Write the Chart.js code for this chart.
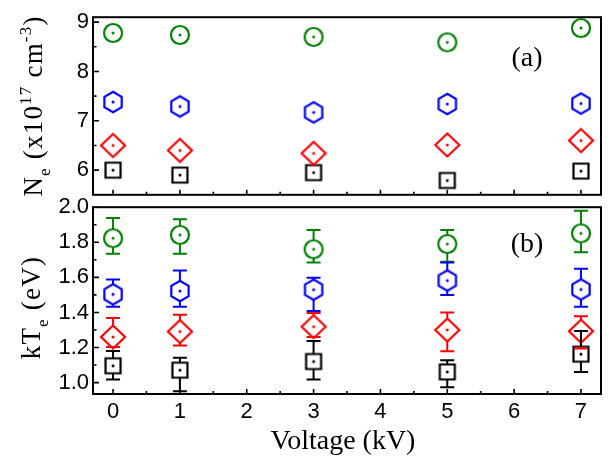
<!DOCTYPE html>
<html><head><meta charset="utf-8">
<script src="https://cdn.jsdelivr.net/npm/chart.js@4"></script>
<style>
html,body{margin:0;padding:0;background:#fff;}
#wrap{position:relative;width:612px;height:459px;overflow:hidden;background:#fff;}
canvas{position:absolute;left:0;}
#cA{top:0;}
#cB{top:190px;}
</style></head><body>
<div id="wrap"><canvas id="cA" width="612" height="212"></canvas><canvas id="cB" width="612" height="269"></canvas></div>
<script>
// ---------------- DATA ----------------
const voltages = [0, 1, 3, 5, 7];
const xTicks = [0, 1, 2, 3, 4, 5, 6, 7];
const neTicks = [6, 7, 8, 9];
const teTicks = [1.0, 1.2, 1.4, 1.6, 1.8, 2.0];
const xAxisTitle = 'Voltage (kV)';

// Panel (a): electron density Ne (x10^17 cm^-3)
const neBlack = [6.00, 5.90, 5.95, 5.79, 5.98];
const neRed   = [6.50, 6.40, 6.34, 6.51, 6.60];
const neBlue  = [7.38, 7.29, 7.17, 7.34, 7.35];
const neGreen = [8.78, 8.74, 8.70, 8.59, 8.88];

// Panel (b): electron temperature kTe (eV) with error bar limits
const teBlack   = [1.096, 1.071, 1.120, 1.061, 1.162];
const teBlackHi = [1.180, 1.141, 1.237, 1.128, 1.294];
const teBlackLo = [1.018, 0.950, 1.018, 0.973, 1.061];
const teRed     = [1.260, 1.291, 1.319, 1.300, 1.293];
const teRedHi   = [1.368, 1.387, 1.397, 1.400, 1.378];
const teRedLo   = [1.203, 1.211, 1.260, 1.179, 1.194];
const teBlue    = [1.503, 1.522, 1.530, 1.582, 1.531];
const teBlueHi  = [1.588, 1.639, 1.598, 1.685, 1.649];
const teBlueLo  = [1.433, 1.433, 1.408, 1.499, 1.433];
const teGreen   = [1.823, 1.842, 1.760, 1.790, 1.851];
const teGreenHi = [1.939, 1.931, 1.870, 1.870, 1.980];
const teGreenLo = [1.734, 1.734, 1.685, 1.689, 1.743];

// ---------------- STYLE ----------------
const GREEN = '#008000', BLUE = '#0000ff', RED = '#ff0000', BLACK = '#000000';
const SANS = '"Liberation Sans", Arial, sans-serif';
const SERIF = '"Liberation Serif", "Times New Roman", serif';

function marker(shape, color) {
  const c = document.createElement('canvas');
  c.width = 30; c.height = 30;
  const g = c.getContext('2d');
  g.strokeStyle = color; g.fillStyle = color; g.lineWidth = 2.2; g.lineJoin = 'miter';
  const m = 15;
  g.beginPath();
  if (shape === 'circle') g.arc(m, m, 9, 0, 2 * Math.PI);
  else if (shape === 'square') g.rect(m - 7.5, m - 7.5, 15, 15);
  else if (shape === 'diamond') { g.moveTo(m, m - 11.5); g.lineTo(m + 12, m); g.lineTo(m, m + 11.5); g.lineTo(m - 12, m); g.closePath(); }
  else if (shape === 'hex') {
    for (let k = 0; k < 6; k++) {
      const a = -Math.PI / 2 + k * Math.PI / 3;
      const px = m + 10 * Math.cos(a), py = m + 10.3 * Math.sin(a);
      if (k === 0) g.moveTo(px, py); else g.lineTo(px, py);
    }
    g.closePath();
  }
  g.stroke();
  g.beginPath(); g.arc(m, m, 1.5, 0, 2 * Math.PI); g.fill();
  return c;
}
const half = { circle: 9, square: 7.5, diamond: 11.5, hex: 10.3 };

function ds(vals, shape, color, hi, lo) {
  return {
    data: voltages.map((v, i) => ({ x: v, y: vals[i] })),
    pointStyle: marker(shape, color), pointRadius: 10, showLine: false,
    borderColor: color, backgroundColor: color,
    errHi: hi, errLo: lo, errColor: color, markerHalf: half[shape]
  };
}

function drawRich(ctx, parts, bx, cy, size) {
  ctx.save();
  ctx.translate(bx, cy);
  ctx.rotate(-Math.PI / 2);
  if ('letterSpacing' in ctx) ctx.letterSpacing = '1.2px';
  const small = Math.round(size * 0.63);
  const fnt = p => (p.s === 'n' ? size : small) + 'px ' + SERIF;
  const widths = parts.map(p => { ctx.font = fnt(p); return ctx.measureText(p.t).width; });
  const total = widths.reduce((a, b) => a + b, 0);
  let x = -total / 2;
  ctx.textBaseline = 'alphabetic'; ctx.textAlign = 'left'; ctx.fillStyle = '#000';
  parts.forEach((p, i) => {
    ctx.font = fnt(p);
    const dy = p.s === 'sub' ? size * 0.3 : p.s === 'sup' ? -size * 0.42 : 0;
    ctx.fillText(p.t, x, dy);
    x += widths[i];
  });
  ctx.restore();
}

function minorsOf(ticks, min, max) {
  const step = ticks[1] - ticks[0];
  const out = [];
  for (let i = -1; i < ticks.length; i++) {
    const v = (i < 0 ? ticks[0] - step : ticks[i]) + step / 2;
    if (v > min && v < max) out.push(v);
  }
  return out;
}

const framePlugin = {
  id: 'frame',
  afterDatasetsDraw(chart) {
    const ctx = chart.ctx;
    const ys = chart.scales.y;
    chart.data.datasets.forEach(d => {
      if (!d.errHi) return;
      ctx.save();
      ctx.strokeStyle = d.errColor; ctx.lineWidth = 2;
      d.data.forEach((p, i) => {
        const px = chart.scales.x.getPixelForValue(p.x);
        const py = ys.getPixelForValue(p.y);
        const ph = ys.getPixelForValue(d.errHi[i]);
        const pl = ys.getPixelForValue(d.errLo[i]);
        const r = d.markerHalf;
        ctx.beginPath();
        if (ph < py - r) { ctx.moveTo(px, ph); ctx.lineTo(px, py - r); }
        if (pl > py + r) { ctx.moveTo(px, py + r); ctx.lineTo(px, pl); }
        ctx.moveTo(px - 7, ph); ctx.lineTo(px + 7, ph);
        ctx.moveTo(px - 7, pl); ctx.lineTo(px + 7, pl);
        ctx.stroke();
      });
      ctx.restore();
    });
  },
  afterDraw(chart, args, opts) {
    const ctx = chart.ctx, a = chart.chartArea;
    const xs = chart.scales.x, ys = chart.scales.y;
    ctx.save();
    ctx.strokeStyle = '#000';
    ctx.lineWidth = 1.6;
    ctx.beginPath();
    xTicks.forEach(v => { const px = xs.getPixelForValue(v); ctx.moveTo(px, a.bottom); ctx.lineTo(px, a.bottom - 5); });
    minorsOf(xTicks, xs.min, xs.max).forEach(v => { const px = xs.getPixelForValue(v); ctx.moveTo(px, a.bottom); ctx.lineTo(px, a.bottom - 3); });
    opts.yTicks.forEach(v => { const py = ys.getPixelForValue(v); ctx.moveTo(a.left, py); ctx.lineTo(a.left + 6, py); });
    minorsOf(opts.yTicks, ys.min, ys.max).forEach(v => { const py = ys.getPixelForValue(v); ctx.moveTo(a.left, py); ctx.lineTo(a.left + 3.5, py); });
    ctx.stroke();
    ctx.lineWidth = 2;
    ctx.strokeRect(a.left, a.top, a.right - a.left, a.bottom - a.top);
    // panel label
    ctx.fillStyle = '#000';
    ctx.font = '28px ' + SERIF;
    ctx.textAlign = 'center'; ctx.textBaseline = 'middle';
    ctx.fillText(opts.label, a.right - 74, a.top + opts.labelDy);
    if (opts.xTitle) {
      ctx.font = '28px ' + SERIF;
      ctx.textAlign = 'center'; ctx.textBaseline = 'middle';
      ctx.fillText(opts.xTitle, (a.left + a.right) / 2 - 4, a.bottom + 48);
    }
    ctx.restore();
    drawRich(ctx, opts.title, opts.titleX, (a.top + a.bottom) / 2 + opts.titleDy, 27);
  }
};

function baseOptions(yMin, yMax, yTicksArr, fmt, xHeight, padTop, pluginOpts, showX) {
  return {
    responsive: false, animation: false,
    layout: { padding: { top: padTop, left: 0, right: 4, bottom: 0 } },
    plugins: { legend: { display: false }, tooltip: { enabled: false }, frame: pluginOpts },
    scales: {
      x: {
        type: 'linear', min: -0.3, max: 7.3,
        afterBuildTicks: s => { s.ticks = xTicks.map(v => ({ value: v })); },
        ticks: { display: showX, font: { family: SANS, size: 22 }, color: '#000', padding: 5, maxRotation: 0, autoSkip: false },
        grid: { display: false, drawTicks: false }, border: { display: false },
        title: { display: false },
        afterFit: s => { s.height = xHeight; }
      },
      y: {
        type: 'linear', min: yMin, max: yMax,
        afterBuildTicks: s => { s.ticks = yTicksArr.map(v => ({ value: v })); },
        ticks: { font: { family: SANS, size: 22 }, color: '#000', padding: 4, callback: fmt },
        grid: { display: false, drawTicks: false }, border: { display: false },
        afterFit: s => { s.width = 93; }
      }
    }
  };
}

new Chart(document.getElementById('cA'), {
  type: 'scatter',
  data: { datasets: [
    ds(neGreen, 'circle', GREEN), ds(neBlue, 'hex', BLUE), ds(neRed, 'diamond', RED), ds(neBlack, 'square', BLACK)
  ] },
  options: baseOptions(5.5, 9.1, neTicks, v => v.toFixed(0), 6, 16, {
    yTicks: neTicks, label: '(a)', labelDy: 41,
    title: [{ t: 'N', s: 'n' }, { t: 'e', s: 'sub' }, { t: ' (x10', s: 'n' }, { t: '17', s: 'sup' }, { t: ' cm', s: 'n' }, { t: '-3', s: 'sup' }, { t: ')', s: 'n' }],
    titleX: 42, titleDy: 0
  }, false),
  plugins: [framePlugin]
});

new Chart(document.getElementById('cB'), {
  type: 'scatter',
  data: { datasets: [
    ds(teGreen, 'circle', GREEN, teGreenHi, teGreenLo), ds(teBlue, 'hex', BLUE, teBlueHi, teBlueLo),
    ds(teRed, 'diamond', RED, teRedHi, teRedLo), ds(teBlack, 'square', BLACK, teBlackHi, teBlackLo)
  ] },
  options: baseOptions(0.935, 2.0, teTicks, v => v.toFixed(1), 65, 16, {
    yTicks: teTicks, label: '(b)', labelDy: 37, xTitle: xAxisTitle,
    title: [{ t: 'kT', s: 'n' }, { t: 'e', s: 'sub' }, { t: ' (eV)', s: 'n' }],
    titleX: 40, titleDy: 7
  }, true),
  plugins: [framePlugin]
});
</script>
</body></html>
